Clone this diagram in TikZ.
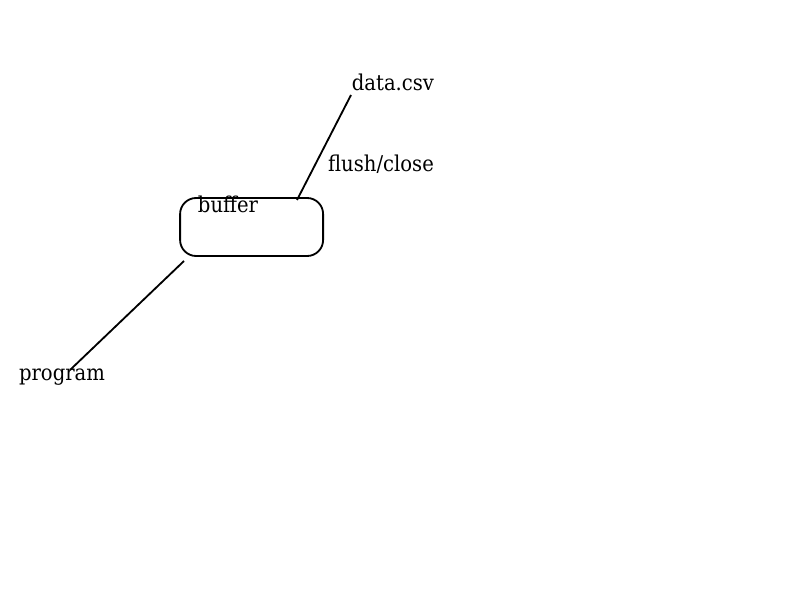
\documentclass[tikz,border=0pt]{standalone}
\usepackage{fontspec}
\setmainfont{DejaVu Serif Condensed}
\usetikzlibrary{positioning}

\begin{document}
\begin{tikzpicture} [line width=1.3pt, label/.style={inner sep=0pt, font=\fontsize{15.5}{18}\selectfont}, store/.style={rectangle, rounded corners=0.4cm, draw, minimum width=3.575cm, minimum height=1.45cm}]
	\useasboundingbox (0,0) rectangle (20,15);
	\node [store] (buffer) at (6.29,9.325) {};
	\node [label] (buffertext) at (5.7,9.88) {buffer};
	\node [label] (data) at (9.825,12.93) {data.csv};
	\node [label] (program) at (1.55,5.58) {program};
	\node [label] (flush) at (9.525,10.9) {flush/close};
	\coordinate (datafoot) at (8.775,12.625);
	\coordinate (buffertop) at (7.425,10.0);
	\coordinate (bufferfoot) at (4.6,8.475);
	\coordinate (programtop) at (1.75,5.75);

	% draw edges
	\draw (datafoot) -- (buffertop);
	\draw (bufferfoot) -- (programtop);
\end{tikzpicture}
\end{document}
